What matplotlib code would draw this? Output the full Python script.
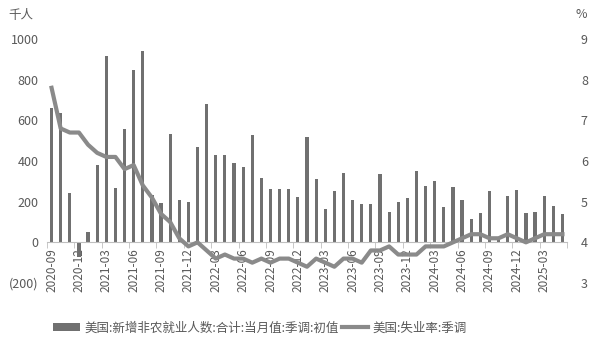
import matplotlib
matplotlib.use("Agg")
import matplotlib.pyplot as plt
from matplotlib.patches import Patch
from matplotlib.lines import Line2D
import numpy as np

plt.rcParams['font.family'] = ['Noto Sans CJK SC', 'DejaVu Sans']

months = []
for y in range(2020, 2026):
    for m in range(1, 13):
        if (y == 2020 and m < 9) or (y == 2025 and m > 5):
            continue
        months.append(f"{y}-{m:02d}")

nfp = [661, 638, 245, -70,
       49, 379, 916, 266, 559, 850, 943, 235, 194, 531, 210, 199,
       467, 678, 431, 428, 390, 372, 528, 315, 263, 261, 263, 223,
       517, 311, 165, 253, 339, 209, 187, 187, 336, 150, 199, 216,
       353, 275, 303, 175, 272, 206, 114, 142, 254, 12, 227, 256,
       143, 151, 228, 177, 139]

unemp = [7.8, 6.8, 6.7, 6.7,
         6.4, 6.2, 6.1, 6.1, 5.8, 5.9, 5.4, 5.1, 4.7, 4.5, 4.1, 3.9,
         4.0, 3.8, 3.6, 3.7, 3.6, 3.6, 3.5, 3.6, 3.5, 3.6, 3.6, 3.5,
         3.4, 3.6, 3.5, 3.4, 3.6, 3.6, 3.5, 3.8, 3.8, 3.9, 3.7, 3.7,
         3.7, 3.9, 3.9, 3.9, 4.0, 4.1, 4.2, 4.2, 4.1, 4.1, 4.2, 4.1,
         4.0, 4.1, 4.2, 4.2, 4.2]

left_ticks = [-200, 0, 200, 400, 600, 800, 1000]
left_labels = ["(200)", "0", "200", "400", "600", "800", "1000"]
right_ticks = [3, 4, 5, 6, 7, 8, 9]

bar_label = "美国:新增非农就业人数:合计:当月值:季调:初值"
line_label = "美国:失业率:季调"

txt = '#595959'
bar_c = '#707070'
line_c = '#8a8a8a'

fig = plt.figure(figsize=(6.01, 3.5), dpi=100)
ax = fig.add_axes([47/601, 1-283/350, 520/601, 244/350])
x = np.arange(len(months))
ax.bar(x, nfp, width=0.35, color=bar_c, zorder=2)
ax.set_xlim(-0.5, len(months)-0.5)
ax.set_ylim(-200, 1000)
ax.set_yticks(left_ticks)
ax.set_yticklabels(left_labels)
for s in ['top', 'right', 'left']:
    ax.spines[s].set_visible(False)
ax.spines['bottom'].set_position(('data', 0))
ax.spines['bottom'].set_color('#bfbfbf')
ax.tick_params(axis='y', length=0, labelsize=9, colors=txt, pad=6)

lab_idx = list(range(0, len(months), 3))
ax.set_xticks(lab_idx)
ax.set_xticklabels([months[i] for i in lab_idx], rotation=90)
ax.set_xticks(np.arange(-0.5, len(months), 3), minor=True)
ax.tick_params(axis='x', which='major', length=0, labelsize=8.5, colors=txt, pad=4)
ax.tick_params(axis='x', which='minor', length=4, color='#bfbfbf', direction='out')

ax2 = ax.twinx()
ax2.plot(x, unemp, color=line_c, lw=3, zorder=3)
ax2.set_ylim(3, 9)
ax2.set_yticks(right_ticks)
for s in ['top', 'right', 'left', 'bottom']:
    ax2.spines[s].set_visible(False)
ax2.tick_params(axis='y', length=0, labelsize=9, colors=txt, pad=10)

fig.text(8/601, 1-15/350, "千人", fontsize=9, color=txt, va='center', ha='left')
fig.text(576/601, 1-15/350, "%", fontsize=9, color=txt, va='center', ha='left')

handles = [Patch(facecolor=bar_c, edgecolor='none'),
           Line2D([0], [0], color=line_c, lw=3)]
fig.legend(handles, [bar_label, line_label], loc='center',
           bbox_to_anchor=(0.433, 0.063), ncol=2, frameon=False,
           fontsize=9, labelcolor=txt, handlelength=2.1, handleheight=0.6,
           handletextpad=0.4, columnspacing=0.2)

fig.savefig("out.png", dpi=100)
